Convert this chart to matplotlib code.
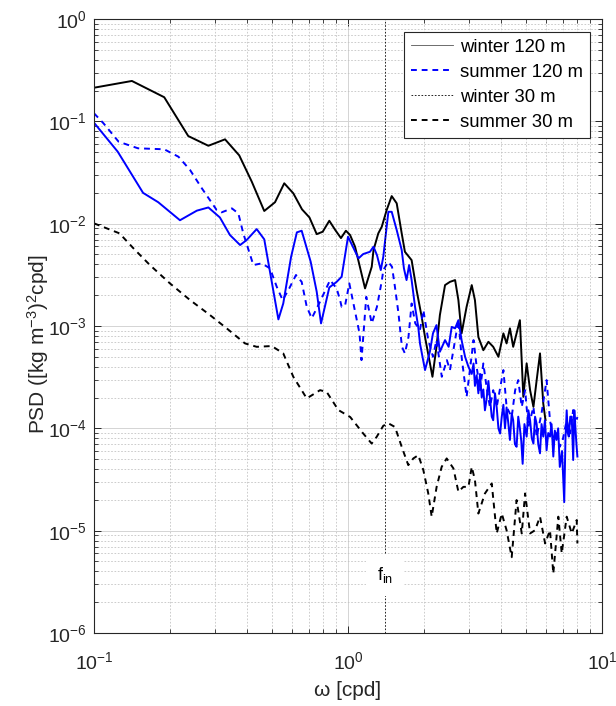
import matplotlib
matplotlib.use("Agg")
import matplotlib.pyplot as plt
from matplotlib.lines import Line2D
from matplotlib.ticker import LogLocator, NullFormatter

plt.rcParams["font.family"] = ["Liberation Sans", "DejaVu Sans"]
plt.rcParams["mathtext.fontset"] = "custom"
plt.rcParams["mathtext.rm"] = "Liberation Sans"
plt.rcParams["mathtext.it"] = "Liberation Sans:italic"

# winter 120 m (black solid)
w120_f = [0.1, 0.141, 0.189, 0.235, 0.282, 0.328, 0.373, 0.418, 0.468, 0.516,
          0.561, 0.609, 0.659, 0.705, 0.753, 0.795, 0.844, 0.891, 0.938, 0.981,
          1.019, 1.066, 1.167, 1.24, 1.26, 1.316, 1.358, 1.42, 1.486, 1.555,
          1.627, 1.675, 1.78, 1.862, 1.95, 2.01, 2.15, 2.23, 2.3, 2.41,
          2.52, 2.64, 2.72, 2.8, 2.93, 3.07, 3.16, 3.26, 3.41, 3.57,
          3.73, 3.91, 4.09, 4.21, 4.34, 4.47, 4.75, 4.9, 5.05, 5.21,
          5.37, 5.53, 5.7, 5.87, 5.99]
w120_p = [0.213, 0.248, 0.172, 0.0718, 0.0577, 0.0667, 0.0465, 0.0257, 0.0133, 0.0162,
          0.0248, 0.0198, 0.0138, 0.0115, 0.0079, 0.00834, 0.01067, 0.00866, 0.00723, 0.00853,
          0.00774, 0.00595, 0.00233, 0.00379, 0.00552, 0.00804, 0.00933, 0.0136, 0.0186, 0.0158,
          0.00804, 0.00531, 0.0044, 0.00224, 0.00123, 0.00078, 0.000319, 0.000626, 0.00128, 0.00251,
          0.0027, 0.00281, 0.00179, 0.000847, 0.00154, 0.00251, 0.00179, 0.00078, 0.00058, 0.000701,
          0.000626, 0.0005, 0.000847, 0.000676, 0.000948, 0.000626, 0.00114, 0.000203, 0.000431, 0.000236,
          0.000162, 0.000296, 0.00054, 0.000175, 0.00012]

# summer 120 m (blue dashed)
s120_f = [0.1, 0.109, 0.125, 0.149, 0.189, 0.215, 0.239, 0.266, 0.304, 0.318,
          0.349, 0.37, 0.387, 0.424, 0.457, 0.493, 0.524, 0.553, 0.587, 0.624,
          0.657, 0.688, 0.72, 0.776, 0.85, 0.902, 0.93, 0.944, 0.973, 1.012,
          1.11, 1.13, 1.18, 1.24, 1.3, 1.36, 1.377, 1.44, 1.49, 1.53,
          1.58, 1.63, 1.675, 1.73, 1.78, 1.84, 1.92, 1.98, 2.07, 2.16,
          2.23, 2.34, 2.45, 2.52, 2.64, 2.72, 2.8, 2.93, 3.03, 3.12,
          3.21, 3.31, 3.41, 3.51, 3.62, 3.73, 3.85, 4.09, 4.21, 4.41,
          4.55, 4.68, 4.83, 4.98, 5.13, 5.37, 5.53, 5.78, 6.05, 6.24,
          6.43, 6.62, 6.82, 7.0, 7.26, 7.48, 7.7, 7.86, 8.0]
s120_p = [0.1198, 0.0956, 0.0632, 0.0545, 0.0533, 0.0451, 0.0334, 0.0221, 0.0136, 0.0129,
          0.0141, 0.0126, 0.00804, 0.00394, 0.00409, 0.00366, 0.00242, 0.00179, 0.00233, 0.00315,
          0.0027, 0.00154, 0.00119, 0.00173, 0.00281, 0.00233, 0.0018, 0.00154, 0.00157, 0.00261,
          0.000847, 0.000464, 0.00193, 0.00106, 0.00154, 0.00281, 0.00352, 0.00424, 0.00379, 0.00242,
          0.00133, 0.000626, 0.00054, 0.00078, 0.00166, 0.00106, 0.000912, 0.00143, 0.000728, 0.0005,
          0.000728, 0.000319, 0.000464, 0.000371, 0.000728, 0.00114, 0.0005, 0.000203, 0.000399, 0.000728,
          0.000399, 0.000236, 0.000431, 0.000255, 0.000162, 0.000236, 0.000162, 0.000371, 0.000162, 0.000129,
          0.000236, 0.000296, 0.000162, 0.000236, 0.000103, 0.000162, 8.26e-5, 0.00014, 0.000296, 0.00012,
          7.67e-5, 9.6e-5, 6.6e-5, 7.67e-5, 0.00012, 8.9e-5, 0.000151, 0.000112, 0.000129]

# blue solid series
b_f = [0.1, 0.124, 0.156, 0.179, 0.218, 0.254, 0.282, 0.313, 0.343, 0.376,
       0.399, 0.437, 0.468, 0.532, 0.556, 0.597, 0.629, 0.657, 0.713, 0.753,
       0.783, 0.844, 0.902, 0.944, 1.0, 1.03, 1.1, 1.148, 1.22, 1.26,
       1.3, 1.346, 1.377, 1.41, 1.442, 1.486, 1.555, 1.627, 1.66, 1.70,
       1.74, 1.78, 1.836, 1.89, 1.92, 2.01, 2.1, 2.16, 2.23, 2.3,
       2.41, 2.49, 2.56, 2.64, 2.72, 2.8, 2.89, 2.98, 3.07, 3.12,
       3.16, 3.21, 3.26, 3.31, 3.36, 3.41, 3.46, 3.51, 3.57, 3.62,
       3.68, 3.73, 3.79, 3.85, 3.91, 3.97, 4.03, 4.09, 4.15, 4.21,
       4.28, 4.34, 4.41, 4.47, 4.54, 4.61, 4.68, 4.75, 4.81, 4.87,
       4.95, 5.05, 5.13, 5.21, 5.29, 5.37, 5.45, 5.53, 5.61, 5.7,
       5.78, 5.87, 5.96, 6.05, 6.14, 6.24, 6.33, 6.43, 6.52, 6.62,
       6.72, 6.82, 6.96, 7.1, 7.18, 7.26, 7.33, 7.4, 7.5, 7.6,
       7.7, 7.78, 7.86, 7.93, 8.0]
b_p = [0.0969, 0.0505, 0.02, 0.0162, 0.0108, 0.0134, 0.0144, 0.0115, 0.00774, 0.00618,
       0.00692, 0.00885, 0.00703, 0.00116, 0.00166, 0.00475, 0.00822, 0.00853, 0.00424, 0.00216,
       0.00106, 0.00238, 0.0027, 0.00303, 0.00745, 0.00641, 0.00458, 0.00505, 0.00531, 0.00595,
       0.00493, 0.00352, 0.00475, 0.00804, 0.01306, 0.01306, 0.00866, 0.00552, 0.00366, 0.00281,
       0.00394, 0.00281, 0.00154, 0.00098, 0.000676, 0.000371, 0.00056, 0.000847, 0.00102, 0.00056,
       0.000728, 0.000626, 0.00098, 0.000948, 0.00114, 0.000728, 0.0005, 0.000399, 0.00034, 0.00043,
       0.00026, 0.00033, 0.00022, 0.00034, 0.0002, 0.00024, 0.00015, 0.00019, 0.00029, 0.0002,
       0.00013, 0.00012, 0.00022, 0.00016, 0.0001, 8.9e-5, 0.00013, 0.00017, 0.0001, 0.00016,
       0.00011, 7.7e-5, 0.00014, 0.00012, 7.0e-5, 6.6e-5, 0.00013, 0.0001, 7.5e-5, 4.5e-5,
       0.00011, 8.3e-5, 0.00015, 0.00012, 8.0e-5, 7.1e-5, 0.00013, 0.00011, 7.0e-5, 5.7e-5,
       0.00011, 8.3e-5, 0.00012, 6.1e-5, 9.0e-5, 8.3e-5, 0.00011, 5.3e-5, 9.5e-5, 7.7e-5,
       0.0001, 4.2e-5, 6.0e-5, 1.9e-5, 8.0e-5, 0.00015, 9.0e-5, 8.3e-5, 0.00013, 0.00013,
       4.9e-5, 0.00015, 0.0001, 7.0e-5, 5.3e-5]

# summer 30 m (black dashed)
s30_f = [0.1, 0.126, 0.143, 0.166, 0.199, 0.239, 0.286, 0.333, 0.393, 0.437,
         0.501, 0.556, 0.609, 0.688, 0.776, 0.824, 0.916, 1.02, 1.148, 1.239,
         1.297, 1.377, 1.442, 1.531, 1.627, 1.727, 1.808, 1.892, 1.98, 2.07,
         2.135, 2.233, 2.337, 2.446, 2.6, 2.72, 2.845, 2.98, 3.07, 3.16,
         3.26, 3.46, 3.68, 3.85, 4.03, 4.21, 4.41, 4.61, 4.83, 4.98,
         5.21, 5.45, 5.7, 5.97, 6.24, 6.43, 6.73, 6.94, 7.26, 7.6,
         7.95, 8.0]
s30_p = [0.01007, 0.00804, 0.00574, 0.00394, 0.00261, 0.00179, 0.00128, 0.000948, 0.000676, 0.000626,
         0.000637, 0.00054, 0.000319, 0.000196, 0.000236, 0.000227, 0.000151, 0.000129, 8.9e-5, 7.1e-5,
         8.26e-5, 0.000106, 0.000112, 0.000103, 6.6e-5, 4.37e-5, 5.08e-5, 5.47e-5, 3.9e-5, 2.31e-5,
         1.37e-5, 2.68e-5, 4.2e-5, 5.08e-5, 4.06e-5, 2.4e-5, 2.68e-5, 2.68e-5, 4.2e-5, 3.12e-5,
         1.47e-5, 2.31e-5, 2.89e-5, 9.4e-6, 1.47e-5, 1.01e-5, 5.5e-6, 1.99e-5, 9.4e-6, 2.31e-5,
         9.4e-6, 1.01e-5, 1.37e-5, 7.5e-6, 1.01e-5, 3.8e-6, 1.37e-5, 6.0e-6, 1.37e-5, 9.4e-6,
         1.27e-5, 7.5e-6]

f_in = 1.40
legend_labels = ["winter 120 m", "summer 120 m", "winter 30 m", "summer 30 m"]

fig = plt.figure(figsize=(6.16, 7.06), dpi=100)
ax = fig.add_axes([0.1526, 0.1034, 0.8247, 0.8697])

blue = "#0000ff"
dash = (0, (3, 2.5))
ax.plot(w120_f, w120_p, color="k", lw=1.4)
ax.plot(s120_f, s120_p, color=blue, lw=1.4, ls=dash)
ax.plot(b_f, b_p, color=blue, lw=1.4)
ax.plot(s30_f, s30_p, color="k", lw=1.4, ls=dash)
ax.axvline(f_in, color="k", lw=0.6, ls=(0, (2, 2)))
ax.text(f_in, 3.67e-6, r"f$_\mathregular{in}$", ha="center", va="center",
        fontsize=13, zorder=5,
        bbox=dict(facecolor="white", edgecolor="none", pad=8))

ax.set_xscale("log")
ax.set_yscale("log")
ax.set_xlim(0.1, 10)
ax.set_ylim(1e-6, 1)
ax.xaxis.set_minor_locator(LogLocator(base=10, subs=range(2, 10)))
ax.yaxis.set_minor_locator(LogLocator(base=10, subs=range(2, 10), numticks=20))
ax.yaxis.set_major_locator(LogLocator(base=10, numticks=20))
ax.xaxis.set_minor_formatter(NullFormatter())
ax.yaxis.set_minor_formatter(NullFormatter())

ax.grid(True, which="major", color="#d4d4d4", lw=0.7, ls="-")
ax.grid(True, which="minor", color="#c4c4c4", lw=0.6, ls=(0, (2, 2)))
ax.set_axisbelow(True)

ax.tick_params(which="both", direction="in", top=True, right=True,
               colors="#262626", labelsize=14)
ax.tick_params(which="major", length=5, width=0.7)
ax.tick_params(which="minor", length=3, width=0.6)
ax.tick_params(axis="x", pad=13)
ax.tick_params(axis="y", pad=5)
for s in ax.spines.values():
    s.set_color("#262626")
    s.set_linewidth(0.8)

ax.set_xlabel("ω [cpd]", fontsize=15, color="#262626", labelpad=6)
ax.set_ylabel(r"PSD ([kg m$^{-3}$)$^{2}$cpd]", fontsize=15, color="#262626")
ax.yaxis.set_label_coords(-0.085, 0.47)

handles = [
    Line2D([], [], color="#555555", lw=0.6),
    Line2D([], [], color=blue, lw=1.4, ls=dash),
    Line2D([], [], color="k", lw=0.6, ls=(0, (2, 2))),
    Line2D([], [], color="k", lw=1.4, ls=dash),
]
leg = ax.legend(handles, legend_labels, loc="upper right",
                bbox_to_anchor=(0.976, 0.979), borderaxespad=0,
                fontsize=13.3, fancybox=False, framealpha=1,
                edgecolor="#262626", labelspacing=0.43,
                handlelength=2.27, handletextpad=0.35, borderpad=0.38)
leg.get_frame().set_linewidth(0.8)

fig.savefig("out.png", dpi=100)
